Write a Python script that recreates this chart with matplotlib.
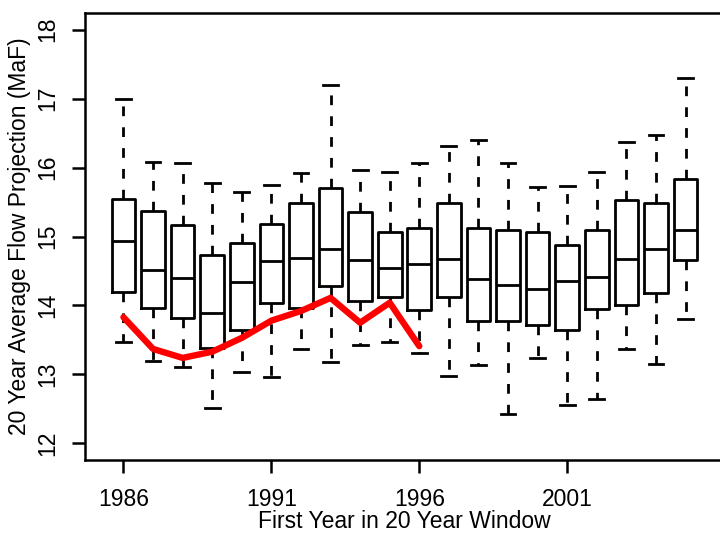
import numpy as np
import matplotlib
matplotlib.use("Agg")
import matplotlib.pyplot as plt

plt.rcParams['font.family'] = ['Liberation Sans', 'DejaVu Sans']

# first year of each 20 year window
years = list(range(1986, 2006))

# box summaries (MaF)
whisker_lo = [13.47, 13.20, 13.11, 12.52, 13.04, 12.97, 13.37, 13.18, 13.42, 13.47,
              13.31, 12.98, 13.13, 12.42, 13.24, 12.56, 12.65, 13.37, 13.15, 13.80]
q1 = [14.20, 13.96, 13.82, 13.38, 13.64, 14.03, 13.96, 14.28, 14.06, 14.13,
      13.93, 14.12, 13.77, 13.78, 13.71, 13.65, 13.95, 14.01, 14.18, 14.66]
medians = [14.93, 14.51, 14.40, 13.89, 14.34, 14.64, 14.69, 14.82, 14.66, 14.55,
           14.60, 14.68, 14.38, 14.30, 14.24, 14.36, 14.42, 14.67, 14.82, 15.09]
q3 = [15.54, 15.37, 15.17, 14.73, 14.90, 15.18, 15.48, 15.70, 15.36, 15.06,
      15.12, 15.49, 15.12, 15.10, 15.06, 14.88, 15.09, 15.53, 15.48, 15.84]
whisker_hi = [17.00, 16.08, 16.06, 15.78, 15.65, 15.75, 15.92, 17.20, 15.97, 15.93,
              16.07, 16.31, 16.40, 16.06, 15.72, 15.73, 15.94, 16.37, 16.47, 17.30]

# observed 20 year averages (red line)
obs_years = list(range(1986, 1997))
observed = [13.83, 13.37, 13.24, 13.33, 13.53, 13.78, 13.92, 14.11, 13.75, 14.04, 13.41]

tick_years = [1986, 1991, 1996, 2001]

stats = []
for i in range(len(years)):
    stats.append(dict(whislo=whisker_lo[i], q1=q1[i], med=medians[i],
                      q3=q3[i], whishi=whisker_hi[i], fliers=[]))

fig = plt.figure(figsize=(7.2, 5.33), dpi=100)
W, H = 720, 533
ax = fig.add_axes([85 / W, 1 - 460 / H, (724 - 85) / W, (460 - 13) / H])

lw = 2.0
ax.bxp(stats, positions=years, widths=0.8, showfliers=False, patch_artist=False,
       boxprops=dict(color='black', linewidth=lw),
       medianprops=dict(color='black', linewidth=lw),
       whiskerprops=dict(color='black', linewidth=lw, linestyle=(0, (3.5, 4))),
       capprops=dict(color='black', linewidth=lw),
       capwidths=0.5, manage_ticks=False)

ax.plot(obs_years, observed, color='#ff0000', linewidth=4.6, solid_capstyle='round',
        solid_joinstyle='round', zorder=5)

ax.set_xlim(years[0] - 1.3, years[-1] + 1.3)
ax.set_ylim(11.76, 18.24)
ax.set_xticks(tick_years)
ax.set_xticklabels([str(y) for y in tick_years])
ax.set_yticks(range(12, 19))

for s in ax.spines.values():
    s.set_linewidth(1.8)
ax.tick_params(axis='both', length=9.5, width=1.8, labelsize=16.5)
ax.tick_params(axis='x', pad=11)
ax.tick_params(axis='y', pad=9, labelrotation=90)
for lab in ax.get_yticklabels():
    lab.set_va('center')

ax.set_xlabel("First Year in 20 Year Window", fontsize=16.5, va='center')
ax.xaxis.set_label_coords(0.5, (460 - 521) / 447)
ax.set_ylabel("20 Year Average Flow Projection (MaF)", fontsize=16.5, va='center')
ax.yaxis.set_label_coords((20 - 85) / 639, 0.5)

fig.savefig("out.png", dpi=100)
